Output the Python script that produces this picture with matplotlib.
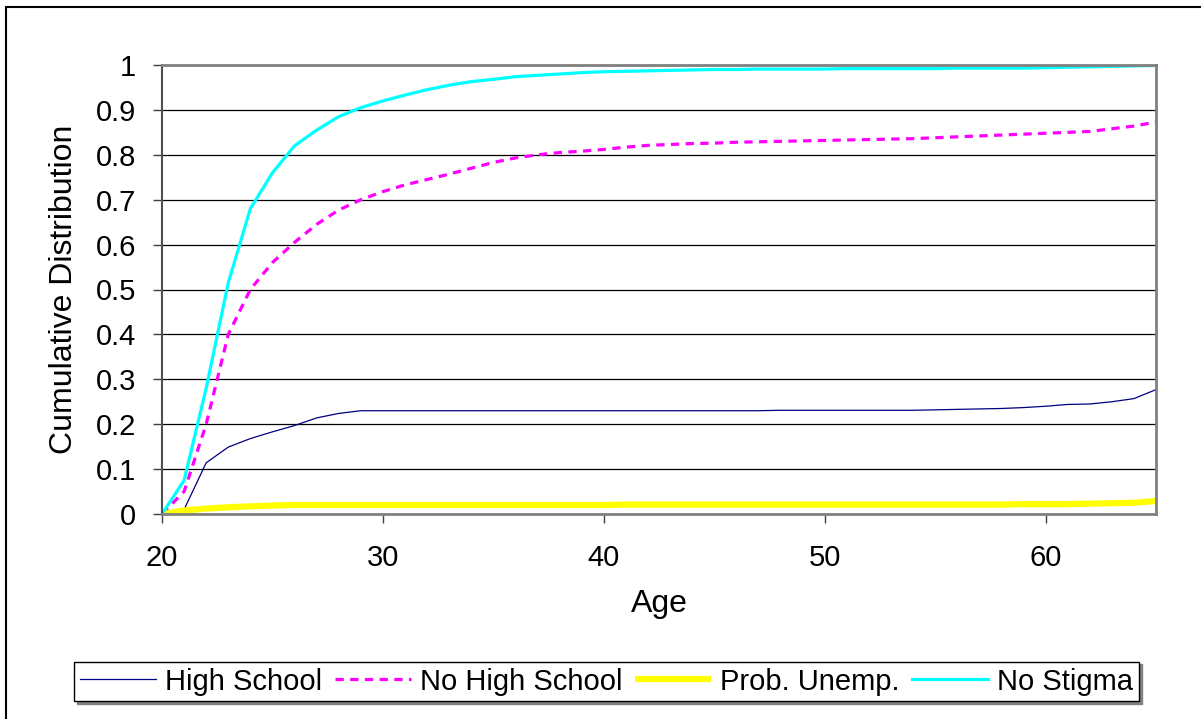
import matplotlib
matplotlib.use("Agg")
import matplotlib.pyplot as plt
from matplotlib.patches import Rectangle

plt.rcParams['font.family'] = ['Liberation Sans', 'DejaVu Sans']

ages = list(range(20, 66))

high_school = [0.000, 0.010, 0.114, 0.149, 0.168, 0.183, 0.197, 0.214, 0.224, 0.230,
               0.230, 0.230, 0.230, 0.230, 0.230, 0.230, 0.230, 0.230, 0.230, 0.230,
               0.230, 0.230, 0.230, 0.230, 0.230, 0.230, 0.230, 0.230, 0.231, 0.231,
               0.231, 0.231, 0.231, 0.231, 0.231, 0.232, 0.233, 0.234, 0.235, 0.237,
               0.240, 0.244, 0.245, 0.250, 0.257, 0.277]

no_high_school = [0.000, 0.050, 0.200, 0.400, 0.500, 0.560, 0.605, 0.645, 0.677, 0.700,
                  0.718, 0.733, 0.745, 0.757, 0.770, 0.783, 0.793, 0.800, 0.805, 0.808,
                  0.812, 0.817, 0.821, 0.823, 0.825, 0.826, 0.828, 0.829, 0.830, 0.831,
                  0.832, 0.833, 0.834, 0.835, 0.836, 0.838, 0.840, 0.842, 0.844, 0.846,
                  0.848, 0.850, 0.852, 0.858, 0.864, 0.873]

prob_unemp = [0.000, 0.008, 0.012, 0.015, 0.017, 0.019, 0.020, 0.020, 0.020, 0.020,
              0.020, 0.020, 0.020, 0.020, 0.020, 0.020, 0.020, 0.020, 0.020, 0.020,
              0.020, 0.021, 0.021, 0.021, 0.021, 0.021, 0.021, 0.021, 0.021, 0.021,
              0.021, 0.021, 0.021, 0.021, 0.021, 0.021, 0.021, 0.021, 0.021, 0.022,
              0.022, 0.022, 0.023, 0.024, 0.025, 0.029]

no_stigma = [0.000, 0.075, 0.280, 0.515, 0.680, 0.760, 0.820, 0.855, 0.885, 0.905,
             0.920, 0.933, 0.945, 0.955, 0.963, 0.968, 0.974, 0.977, 0.980, 0.983,
             0.985, 0.986, 0.987, 0.988, 0.989, 0.990, 0.990, 0.991, 0.991, 0.991,
             0.991, 0.992, 0.992, 0.992, 0.992, 0.992, 0.993, 0.993, 0.993, 0.993,
             0.994, 0.995, 0.996, 0.997, 0.998, 0.999]

x_ticks = [20, 30, 40, 50, 60]
y_ticks = [0, 0.1, 0.2, 0.3, 0.4, 0.5, 0.6, 0.7, 0.8, 0.9, 1]
y_labels = ["0", "0.1", "0.2", "0.3", "0.4", "0.5", "0.6", "0.7", "0.8", "0.9", "1"]

W, H = 1201, 719
fig = plt.figure(figsize=(W / 100, H / 100), dpi=100)

# outer chart frame
fig.patches.append(Rectangle((6 / W, -0.1), 1.2, 1 - 7 / H + 0.1,
                             transform=fig.transFigure, fill=False,
                             edgecolor='black', linewidth=1.5))

ax = fig.add_axes([162 / W, 1 - 514 / H, (1156 - 162) / W, (514 - 65) / H])

ax.plot(ages, high_school, color='#000080', lw=0.9, label='High School')
ax.plot(ages, no_high_school, color='#FF00FF', lw=2.3, dashes=(2.6, 2.0),
        label='No High School')
ax.plot(ages, prob_unemp, color='#FFFF00', lw=4.5, label='Prob. Unemp.',
        solid_capstyle='butt')
ax.plot(ages, no_stigma, color='#00FFFF', lw=2.3, label='No Stigma')

ax.set_xlim(20, 65)
ax.set_ylim(0, 1)
ax.set_xticks(x_ticks)
ax.set_yticks(y_ticks)
ax.set_yticklabels(y_labels)
ax.tick_params(axis='both', labelsize=21, direction='out', length=6.5,
               width=1, color='#404040')
ax.tick_params(axis='y', pad=12)
ax.tick_params(axis='x', pad=15)

ax.yaxis.grid(True, color='black', lw=0.9)
ax.set_axisbelow(True)
for side in ['top', 'right', 'bottom']:
    ax.spines[side].set_color('#808080')
    ax.spines[side].set_linewidth(2)
ax.spines['left'].set_color('#505050')
ax.spines['left'].set_linewidth(1.5)

ax.set_xlabel('Age', fontsize=23, labelpad=12)
ax.set_ylabel('Cumulative Distribution', fontsize=23, labelpad=12)

leg = fig.legend(loc='center', bbox_to_anchor=(606.5 / W, 1 - 681.5 / H),
                 ncol=4, fontsize=21, handlelength=2.6, handletextpad=0.3,
                 columnspacing=0.45, borderpad=0.2, fancybox=False,
                 frameon=True, borderaxespad=0,
                 shadow={'color': '#808080', 'alpha': 1})
leg.get_frame().set_edgecolor('black')
leg.get_frame().set_linewidth(1)

fig.savefig('out.png', dpi=100)
